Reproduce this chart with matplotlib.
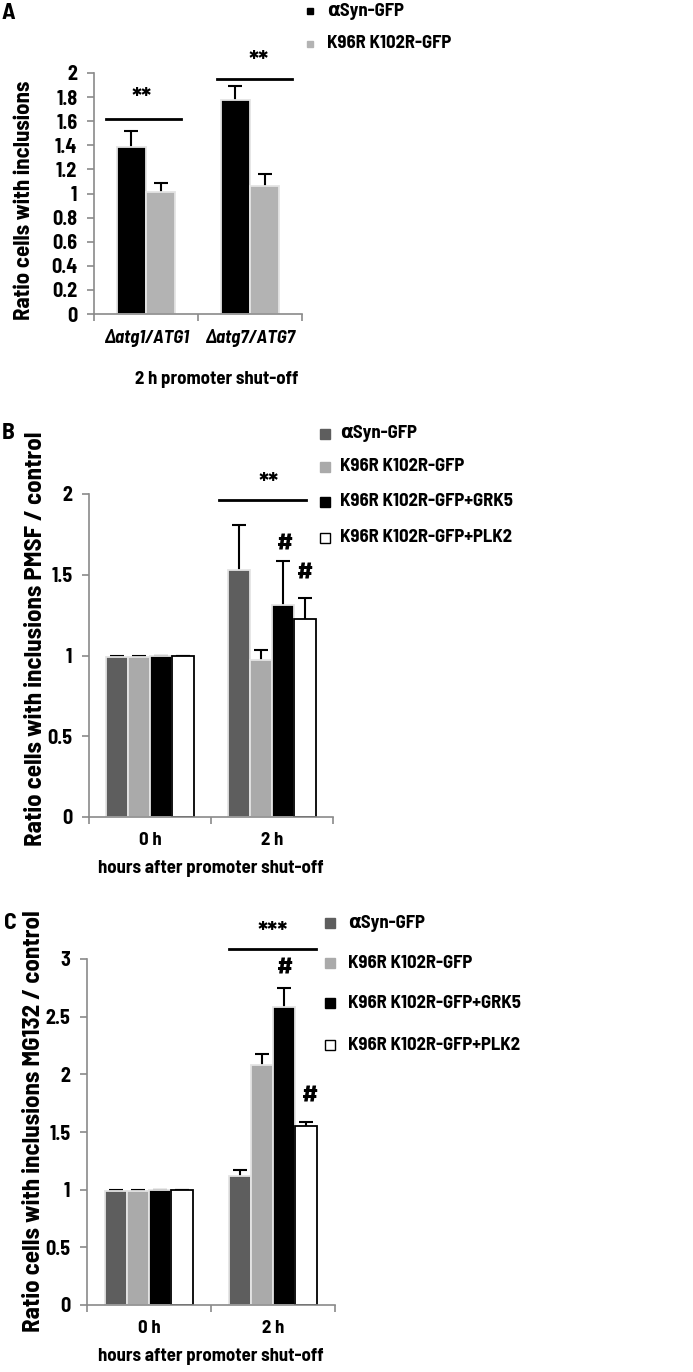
import matplotlib
matplotlib.use('Agg')
import matplotlib.pyplot as plt
import numpy as np
from matplotlib.lines import Line2D
from matplotlib import font_manager

# pick a condensed sans, closest to the Helvetica Condensed of the original
_names = {f.name for f in font_manager.fontManager.ttflist}
main_font = 'Liberation Sans'
for cand in ['Liberation Sans Narrow', 'Barlow Semi Condensed', 'Asap Condensed']:
    if cand in _names:
        main_font = cand
        break
plt.rcParams['font.family'] = [main_font, 'DejaVu Sans']
plt.rcParams['font.weight'] = 'bold'

# ---- data ----
# panel A
a_groups = ['Δatg1/ATG1', 'Δatg7/ATG7']
a_series = ['αSyn-GFP', 'K96R K102R-GFP']
a_colors = ['#000000', '#b3b3b3']
a_vals = [[1.39, 1.78], [1.01, 1.06]]
a_errs = [[0.13, 0.11], [0.08, 0.10]]

# panels B and C
bc_groups = ['0 h', '2 h']
bc_series = ['αSyn-GFP', 'K96R K102R-GFP', 'K96R K102R-GFP+GRK5', 'K96R K102R-GFP+PLK2']
bc_colors = ['#5e5e5e', '#aaaaaa', '#000000', '#ffffff']
b_vals = [[0.99, 1.53], [0.99, 0.975], [1.0, 1.315], [1.0, 1.225]]
b_errs = [[0.01, 0.28], [0.01, 0.06], [0.0, 0.27], [0.0, 0.13]]
c_vals = [[0.99, 1.12], [0.99, 2.08], [1.0, 2.58], [1.0, 1.55]]
c_errs = [[0.01, 0.05], [0.01, 0.10], [0.0, 0.17], [0.0, 0.04]]

W, H = 693, 1372
fig = plt.figure(figsize=(W / 100, H / 100), dpi=100)

FS = 13.5      # legend / category text
TFS = 14.5     # y tick labels


def px_axes(left, right, top, bottom):
    return fig.add_axes([left / W, 1 - bottom / H, (right - left) / W, (bottom - top) / H])


def num_fmt(t):
    return ('%.1f' % t).rstrip('0').rstrip('.')


def style_axes(ax, ymax, step):
    for s in ['top', 'right']:
        ax.spines[s].set_visible(False)
    for s in ['left', 'bottom']:
        ax.spines[s].set_color('#8a8a8a')
        ax.spines[s].set_linewidth(1.2)
    ax.set_ylim(0, ymax)
    ax.set_xlim(0, 2)
    ticks = np.arange(0, ymax + 1e-9, step)
    ax.set_yticks(ticks)
    ax.set_yticklabels([num_fmt(t) for t in ticks], fontsize=TFS, fontweight='bold')
    ax.tick_params(axis='y', length=5, width=1.2, color='#8a8a8a', direction='out', pad=7)
    ax.set_xticks([0, 1, 2])
    ax.set_xticklabels([])
    ax.tick_params(axis='x', length=5, width=1.2, color='#8a8a8a', direction='out')
    ax.set_xticks([0.5, 1.5], minor=True)
    ax.tick_params(axis='x', which='minor', length=0, pad=11)


def draw_bars(ax, vals, errs, colors, width):
    n = len(vals)
    x = np.array([0.5, 1.5])
    for i in range(n):
        pos = x + (i - (n - 1) / 2) * width
        edge = '#000000' if colors[i] == '#ffffff' else '#e4e4e4'
        # error bars behind the bars, so only the upper half shows (Excel style)
        ax.errorbar(pos, vals[i], yerr=errs[i], fmt='none', ecolor='black',
                    elinewidth=1.5, capsize=5, capthick=1.5, zorder=1)
        ax.bar(pos, vals[i], width * 0.97, color=colors[i], edgecolor=edge,
               linewidth=1.3, zorder=2)


def draw_legend(labels, colors, x_mark, x_text, ys, size=6):
    for lab, col, y in zip(labels, colors, ys):
        fig.add_artist(Line2D([x_mark / W], [1 - y / H], marker='s', markersize=size,
                              markerfacecolor=col,
                              markeredgecolor='black' if col == '#ffffff' else col,
                              markeredgewidth=1.0, linestyle='none'))
        fig.text(x_text / W, 1 - y / H, lab, fontsize=FS, fontweight='bold',
                 va='center', ha='left')


# ---- panel A ----
axA = px_axes(94, 302, 73, 314)
style_axes(axA, 2.0, 0.2)
draw_bars(axA, a_vals, a_errs, a_colors, 0.28)
axA.set_xticklabels(a_groups, minor=True, fontsize=FS, fontweight='bold', style='italic')
axA.set_ylabel('Ratio cells with inclusions', fontsize=16.5, fontweight='bold')
axA.yaxis.set_label_coords(-0.288, 0.473)
axA.plot([0.115, 0.837], [1.62, 1.62], color='black', lw=2, clip_on=False)
axA.plot([1.18, 1.90], [1.953, 1.953], color='black', lw=2, clip_on=False)
axA.text(0.46, 1.68, '**', fontsize=19, fontweight='bold', ha='center', va='bottom')
axA.text(1.58, 1.98, '**', fontsize=19, fontweight='bold', ha='center', va='bottom')
fig.text(217 / W, 1 - 380 / H, '2 h promoter shut-off', fontsize=FS, fontweight='bold',
         ha='center', va='center')
draw_legend(a_series, a_colors, 310, 327, [11, 44], size=5)
fig.text(2 / W, 1 - 13 / H, 'A', fontsize=17, fontweight='bold', va='center')

# ---- panel B ----
axB = px_axes(89, 333, 494, 817)
style_axes(axB, 2.0, 0.5)
draw_bars(axB, b_vals, b_errs, bc_colors, 0.18)
axB.set_xticklabels(bc_groups, minor=True, fontsize=FS, fontweight='bold')
axB.set_ylabel('Ratio cells with inclusions PMSF / control', fontsize=18, fontweight='bold')
axB.yaxis.set_label_coords(-0.172, 0.551)
axB.plot([1.066, 1.78], [1.963, 1.963], color='black', lw=2, clip_on=False)
axB.text(1.47, 1.98, '**', fontsize=19, fontweight='bold', ha='center', va='bottom')
axB.text(1.607, 1.62, '#', fontsize=18, fontweight='bold', ha='center', va='bottom')
axB.text(1.77, 1.44, '#', fontsize=18, fontweight='bold', ha='center', va='bottom')
axB.set_xlabel('hours after promoter shut-off', fontsize=FS, fontweight='bold', labelpad=8)
draw_legend(bc_series, bc_colors, 325, 340, [434, 467, 502, 538], size=7)
fig.text(2 / W, 1 - 433 / H, 'B', fontsize=17, fontweight='bold', va='center')

# ---- panel C ----
axC = px_axes(87, 335, 959, 1305)
style_axes(axC, 3.0, 0.5)
draw_bars(axC, c_vals, c_errs, bc_colors, 0.177)
axC.set_xticklabels(bc_groups, minor=True, fontsize=FS, fontweight='bold')
axC.set_ylabel('Ratio cells with inclusions MG132 / control', fontsize=18, fontweight='bold')
axC.yaxis.set_label_coords(-0.170, 0.532)
axC.plot([1.145, 1.847], [3.09, 3.09], color='black', lw=2, clip_on=False)
axC.text(1.5, 3.11, '***', fontsize=19, fontweight='bold', ha='center', va='bottom')
axC.text(1.597, 2.82, '#', fontsize=18, fontweight='bold', ha='center', va='bottom')
axC.text(1.80, 1.71, '#', fontsize=18, fontweight='bold', ha='center', va='bottom')
axC.set_xlabel('hours after promoter shut-off', fontsize=FS, fontweight='bold', labelpad=8)
draw_legend(bc_series, bc_colors, 330, 348, [923, 963, 1003, 1045], size=7)
fig.text(4 / W, 1 - 923 / H, 'C', fontsize=17, fontweight='bold', va='center')

fig.savefig('out.png', dpi=100)
